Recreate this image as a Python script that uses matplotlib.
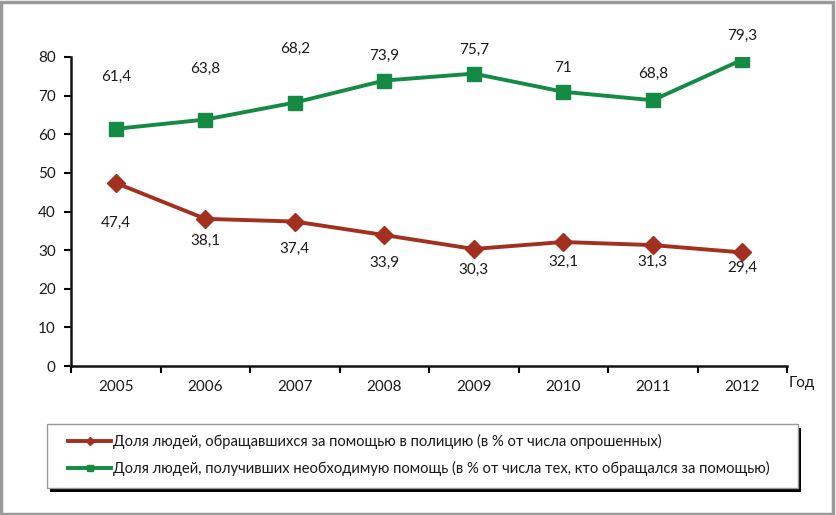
import matplotlib
matplotlib.use("Agg")
import matplotlib.pyplot as plt
from matplotlib.patches import Rectangle

years = ["2005", "2006", "2007", "2008", "2009", "2010", "2011", "2012"]
police = [47.4, 38.1, 37.4, 33.9, 30.3, 32.1, 31.3, 29.4]
helped = [61.4, 63.8, 68.2, 73.9, 75.7, 71, 68.8, 79.3]
police_labels = ["47,4", "38,1", "37,4", "33,9", "30,3", "32,1", "31,3", "29,4"]
helped_labels = ["61,4", "63,8", "68,2", "73,9", "75,7", "71", "68,8", "79,3"]
name_police = "Доля людей, обращавшихся за помощью в полицию (в % от числа опрошенных)"
name_helped = "Доля людей, получивших необходимую помощь (в % от числа тех, кто обращался за помощью)"

# label offsets in pixels (style)
off_helped = [52, 51, 54, 25, 24, 24, 26, 24]
off_police = [-40, -22, -27, -28, -21, -20, -17, -15]

plt.rcParams['font.family'] = ['Lato', 'DejaVu Sans']
RED = "#A3301F"
GREEN = "#148A44"
TXT = "#1a1a1a"

fig = plt.figure(figsize=(8.36, 5.15), dpi=100)
ax = fig.add_axes([71/836, 1-366/515, (787-71)/836, (366-57)/515])

x = list(range(len(years)))
l1, = ax.plot(x, police, color=RED, lw=2.8, marker="D", ms=9, label=name_police)
l2, = ax.plot(x, helped, color=GREEN, lw=2.8, marker="s", ms=9.5, label=name_helped)

for xi, v, t, o in zip(x, helped, helped_labels, off_helped):
    ax.annotate(t, (xi, v), xytext=(0, o), textcoords="offset pixels",
                ha="center", va="center", fontsize=11, color=TXT)
for xi, v, t, o in zip(x, police, police_labels, off_police):
    ax.annotate(t, (xi, v), xytext=(0, o), textcoords="offset pixels",
                ha="center", va="center", fontsize=11, color=TXT)

ax.set_xlim(-0.5, len(years) - 0.5)
ax.set_ylim(0, 80)
ax.set_yticks(range(0, 81, 10))
ax.set_xticks(x)
ax.set_xticklabels(years)
ax.set_xticks([i - 0.5 for i in range(len(years) + 1)], minor=True)
ax.tick_params(axis="x", which="major", length=0, pad=10, labelsize=11, labelcolor=TXT)
ax.tick_params(axis="x", which="minor", length=5, width=1.5, direction="out")
ax.tick_params(axis="y", length=5, width=1.5, direction="out", labelsize=11, pad=6, labelcolor=TXT)
for s in ("top", "right"):
    ax.spines[s].set_visible(False)
for s in ("left", "bottom"):
    ax.spines[s].set_linewidth(1.8)
    ax.spines[s].set_color("#111111")

fig.text(789/836, 1-383/515, "Год", fontsize=11, ha="left", va="center", color=TXT)

# legend with shadow box
bx0, by0, bx1, by1 = 47, 424, 798, 488
fig.patches.append(Rectangle((bx0/836 + 3/836, 1-by1/515 - 4/515), (bx1-bx0)/836, (by1-by0)/515,
                             transform=fig.transFigure, facecolor="black", edgecolor="none", zorder=1))
fig.patches.append(Rectangle((bx0/836, 1-by1/515), (bx1-bx0)/836, (by1-by0)/515,
                             transform=fig.transFigure, facecolor="white", edgecolor="#999999",
                             lw=1, zorder=2))
leg = fig.legend(handles=[l1, l2], loc="center left",
                 bbox_to_anchor=(55/836, 1-455/515), frameon=False, fontsize=10.6,
                 handlelength=2.9, handletextpad=0.15, labelspacing=0.8, markerscale=0.5)
for t in leg.get_texts():
    t.set_color(TXT)
leg.set_zorder(3)

# figure border
fig.patches.append(Rectangle((0.001, 0.002), 0.996, 0.995, transform=fig.transFigure,
                             facecolor="none", edgecolor="#9a9a9a", lw=2.5, zorder=5))

fig.savefig("out.png", dpi=100)
